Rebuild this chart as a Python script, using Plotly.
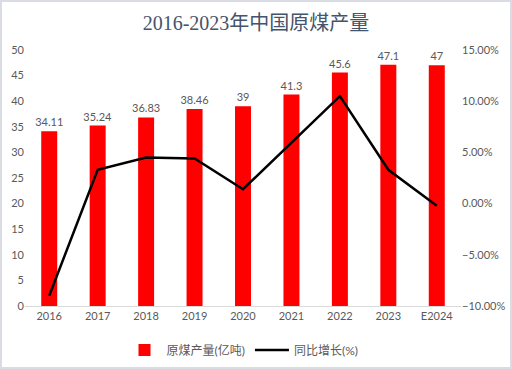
import plotly.graph_objects as go

years = ["2016", "2017", "2018", "2019", "2020", "2021", "2022", "2023", "E2024"]
output = [34.11, 35.24, 36.83, 38.46, 39, 41.3, 45.6, 47.1, 47]
output_labels = ["34.11", "35.24", "36.83", "38.46", "39", "41.3", "45.6", "47.1", "47"]
growth = [-0.090, 0.033, 0.045, 0.044, 0.014, 0.059, 0.105, 0.033, -0.002]

title_text = "2016-2023年中国原煤产量"
bar_name = "原煤产量(亿吨)"
line_name = "同比增长(%)"

tick_font = dict(family="Lato, Noto Sans CJK SC, sans-serif", size=11, color="#595959")

fig = go.Figure()
fig.add_trace(go.Bar(
    x=years, y=output, name=bar_name, marker=dict(color="#ff0000", line=dict(width=0)),
    text=output_labels, textposition="outside", cliponaxis=False, constraintext="none",
    textfont=dict(family="Lato, sans-serif", size=11, color="#595959"),
))
fig.add_trace(go.Scatter(
    x=years, y=growth, name=line_name, mode="lines", yaxis="y2",
    line=dict(color="#000000", width=2.5),
))

W, H = 512, 369
ml, mr, mt, mb = 25, 51, 50, 63
pw, ph = W - ml - mr, H - mt - mb

fig.update_layout(
    width=W, height=H,
    margin=dict(l=ml, r=mr, t=mt, b=mb, autoexpand=False),
    paper_bgcolor="white", plot_bgcolor="white",
    title=dict(text=title_text, x=0.5, xanchor="center", y=1 - 23 / H, yanchor="middle",
               automargin=False,
               font=dict(family="Liberation Serif, Noto Sans CJK SC, serif", size=20, color="#44546a")),
    bargap=0.67,
    showlegend=True,
    legend=dict(orientation="h", x=0.5, xanchor="center", y=-(350 - 306) / ph, yanchor="middle",
                font=dict(family="Lato, Noto Sans CJK SC, sans-serif", size=12, color="#595959"),
                itemwidth=34),
    xaxis=dict(showline=True, linecolor="#d9d9d9", linewidth=1, ticks="", tickfont=tick_font,
               showgrid=False, automargin=False),
    yaxis=dict(range=[0, 50], dtick=5, showgrid=False, showline=False, zeroline=False,
               tickfont=tick_font, automargin=False),
    yaxis2=dict(range=[-0.10, 0.15], dtick=0.05, tickformat=".2%", overlaying="y", side="right",
                showgrid=False, zeroline=False, showline=False, tickfont=tick_font, automargin=False),
    shapes=[dict(type="rect", xref="paper", yref="paper",
                 x0=(1 - ml) / pw, x1=(W - 1 - ml) / pw,
                 y0=(H - mb - (H - 1)) / ph, y1=(H - mb - 1) / ph,
                 line=dict(color="#d9dde3", width=2), layer="below")],
)

fig.write_html("out.html", config={"displayModeBar": False},
               post_script="document.body.style.margin='0';")
